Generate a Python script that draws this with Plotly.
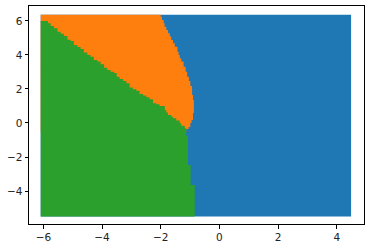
import plotly.graph_objects as go

# Grid extents of the classified mesh
x_extent = [-6.09, 4.49]
y_extent = [-5.5, 6.37]

# Boundary between green (class 2) and orange (class 1): step left edges and heights
green_top_x = [-6.09, -5.84, -5.75, -5.64, -5.52, -5.41, -5.30, -5.18, -5.07, -4.96,
               -4.84, -4.73, -4.62, -4.50, -4.39, -4.28, -4.16, -4.05, -3.93, -3.82,
               -3.71, -3.59, -3.50, -3.40, -3.28, -3.17, -3.06, -2.95, -2.83, -2.72,
               -2.60, -2.49, -2.38, -2.26, -2.15, -2.04, -1.86, -1.81, -1.75, -1.64,
               -1.58, -1.47, -1.35, -1.30, -1.18]
green_top_y = [6.00, 5.86, 5.71, 5.57, 5.37, 5.25, 5.12, 4.90, 4.82, 4.59,
               4.47, 4.35, 4.14, 4.00, 3.90, 3.71, 3.61, 3.45, 3.25, 3.12,
               3.02, 2.94, 2.72, 2.59, 2.47, 2.34, 2.08, 1.98, 1.90, 1.71,
               1.61, 1.51, 1.39, 1.16, 1.10, 1.00, 0.76, 0.61, 0.47, 0.37,
               0.28, 0.14, -0.02, -0.16, -0.31]

# Boundary between green and blue (class 0): step tops and x positions
green_right_y = [-0.31, -0.75, -2.47, -3.65]
green_right_x = [-1.13, -1.07, -0.98, -0.84]

# Boundary between orange and blue: step tops and x positions
orange_right_y = [6.37, 6.25, 6.06, 5.86, 5.66, 5.47, 5.28, 5.08, 4.88, 4.69,
                  4.49, 4.19, 4.00, 3.81, 3.61, 3.31, 3.02, 2.72, 2.47, 2.18,
                  1.65, 1.35, 0.59, 0.18, 0.00, -0.24, -0.35]
orange_right_x = [-2.00, -1.96, -1.90, -1.87, -1.81, -1.75, -1.69, -1.64, -1.58, -1.52,
                  -1.43, -1.39, -1.35, -1.30, -1.22, -1.15, -1.10, -1.04, -0.99, -0.93,
                  -0.90, -0.87, -0.90, -0.95, -0.99, -1.05, -1.13]
orange_bottom_y = -0.51

colors = ["#1f77b4", "#ff7f0e", "#2ca02c"]

x_min, x_max = x_extent
y_min, y_max = y_extent

# Blue: full mesh rectangle
bx = [x_min, x_max, x_max, x_min, x_min]
by = [y_min, y_min, y_max, y_max, y_min]

# Orange polygon
ox, oy = [x_min], [y_max]
for j in range(len(orange_right_x)):
    nxt = orange_right_y[j + 1] if j + 1 < len(orange_right_y) else orange_bottom_y
    ox += [orange_right_x[j], orange_right_x[j]]
    oy += [orange_right_y[j], nxt]
ox += [x_min, x_min]
oy += [orange_bottom_y, y_max]

# Green polygon
gx, gy = [x_min], [y_min]
for i in range(len(green_top_x)):
    nxt = green_top_x[i + 1] if i + 1 < len(green_top_x) else green_right_x[0]
    gx += [green_top_x[i], nxt]
    gy += [green_top_y[i], green_top_y[i]]
for j in range(len(green_right_x)):
    nxt = green_right_y[j + 1] if j + 1 < len(green_right_y) else y_min
    gx += [green_right_x[j], green_right_x[j]]
    gy += [green_right_y[j], nxt]
gx += [x_min]
gy += [y_min]

fig = go.Figure()
for xs, ys, c in [(bx, by, colors[0]), (ox, oy, colors[1]), (gx, gy, colors[2])]:
    fig.add_trace(go.Scatter(x=xs, y=ys, mode="lines", fill="toself",
                             fillcolor=c, line=dict(width=0, color=c),
                             hoverinfo="skip", showlegend=False))

axis_common = dict(showline=True, linecolor="black", linewidth=1, mirror=True,
                   ticks="outside", ticklen=3.5, tickwidth=1, tickcolor="black",
                   showgrid=False, zeroline=False, automargin=False,
                   tickfont=dict(family="DejaVu Sans", size=10.5, color="#222"))
fig.update_xaxes(range=[-6.49, 4.93], tickvals=[-6, -4, -2, 0, 2, 4], **axis_common)
fig.update_yaxes(range=[-5.94, 6.88], tickvals=[-4, -2, 0, 2, 4, 6], **axis_common)

fig.update_layout(width=370, height=248, margin=dict(l=29, r=6, t=6, b=24),
                  paper_bgcolor="white", plot_bgcolor="white")
fig.write_html("out.html", config={"displayModeBar": False},
               post_script="document.body.style.margin='0';")
